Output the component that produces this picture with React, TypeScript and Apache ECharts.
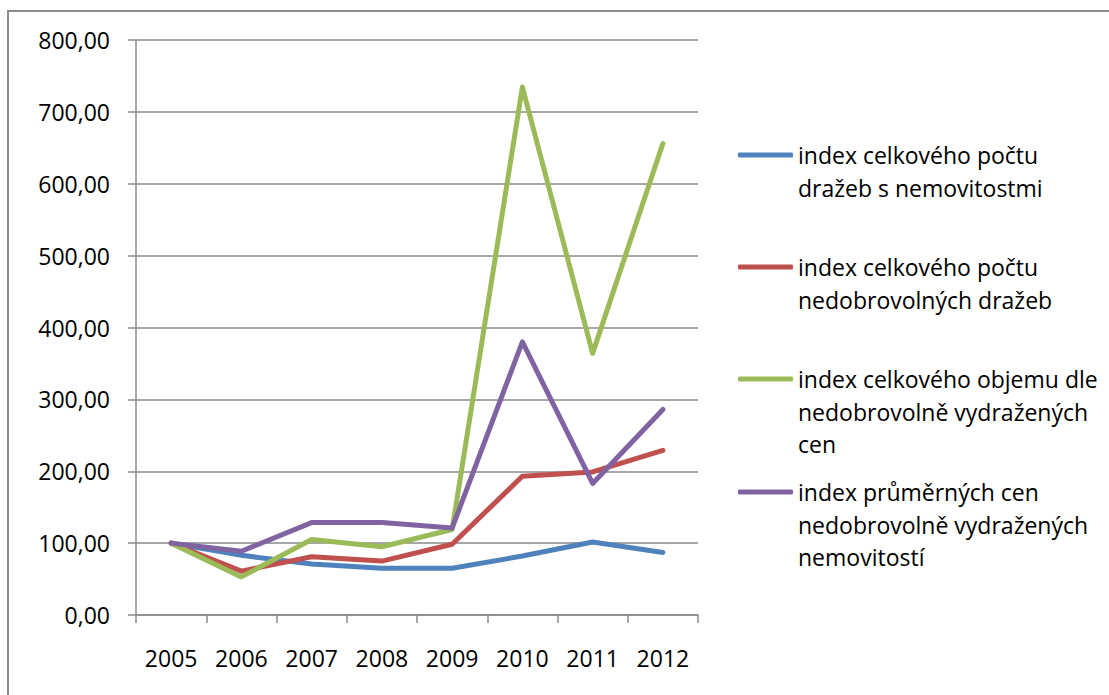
import React, { useEffect, useRef } from "react";
import * as echarts from "echarts";

const categories = ["2005", "2006", "2007", "2008", "2009", "2010", "2011", "2012"];

const nameBlue = "index celkového počtu\ndražeb s nemovitostmi";
const nameRed = "index celkového počtu\nnedobrovolných dražeb";
const nameGreen = "index celkového objemu dle\nnedobrovolně vydražených\ncen";
const namePurple = "index průměrných cen\nnedobrovolně vydražených\nnemovitostí";

const blueValues = [100, 83, 71, 65, 65, 82, 101.6, 87];
const redValues = [100, 61, 81, 75, 98.5, 193, 199, 229];
const greenValues = [100, 53, 105, 95, 119, 734.5, 364, 656];
const purpleValues = [100, 88.7, 128.6, 128.6, 121, 380, 183, 286];

const yTicks = { min: 0, max: 800, interval: 100 };

const FONT = "Open Sans";
const FS = 23;
const LH = 32.5;
const AXIS_COLOR = "#8a8a8a";

function padName(name: string): string {
  const n = name.split("\n").length;
  return "\n".repeat(n - 1) + name;
}

export default function App() {
  const ref = useRef<HTMLDivElement>(null);
  useEffect(() => {
    if (!ref.current) return;
    const chart = echarts.init(ref.current, null, { renderer: "svg" });
    const seriesDefs = [
      { name: nameBlue, data: blueValues, color: "#4F81BD", iconY: 155 },
      { name: nameRed, data: redValues, color: "#C0504D", iconY: 267 },
      { name: nameGreen, data: greenValues, color: "#9BBB59", iconY: 379 },
      { name: namePurple, data: purpleValues, color: "#8064A2", iconY: 492 },
    ];
    const legends = seriesDefs.map((s) => {
      const n = s.name.split("\n").length;
      const totalLines = 2 * n - 1;
      return {
        data: [s.name],
        orient: "vertical",
        left: 738,
        top: s.iconY - (totalLines * LH) / 2,
        padding: 0,
        icon: "roundRect",
        itemWidth: 55,
        itemHeight: 5,
        itemGap: 0,
        selectedMode: false,
        formatter: (nm: string) => padName(nm),
        textStyle: {
          fontFamily: FONT,
          fontSize: FS,
          lineHeight: LH,
          color: "#000",
        },
      };
    });
    chart.setOption({
      animation: false,
      backgroundColor: "#fff",
      grid: { left: 136, right: 411, top: 40, bottom: 80, containLabel: false },
      legend: legends,
      xAxis: {
        type: "category",
        data: categories,
        boundaryGap: true,
        axisLine: { show: true, lineStyle: { color: AXIS_COLOR, width: 1.5 } },
        axisTick: { show: true, inside: false, length: 8, alignWithLabel: false, lineStyle: { color: AXIS_COLOR, width: 1.5 } },
        axisLabel: { margin: 31, fontFamily: FONT, fontSize: FS, color: "#000" },
        splitLine: { show: false },
      },
      yAxis: {
        type: "value",
        min: yTicks.min,
        max: yTicks.max,
        interval: yTicks.interval,
        axisLine: { show: true, lineStyle: { color: AXIS_COLOR, width: 1.5 } },
        axisTick: { show: true, inside: false, length: 8, lineStyle: { color: AXIS_COLOR, width: 1.5 } },
        axisLabel: {
          margin: 26,
          fontFamily: FONT,
          fontSize: FS,
          color: "#000",
          formatter: (v: number) => v.toFixed(2).replace(".", ","),
        },
        splitLine: { show: true, lineStyle: { color: AXIS_COLOR, width: 1.5 } },
      },
      series: seriesDefs.map((s) => ({
        type: "line",
        name: s.name,
        data: s.data,
        symbol: "none",
        showSymbol: false,
        color: s.color,
        lineStyle: { color: s.color, width: 5, cap: "round", join: "round" },
        itemStyle: { color: s.color },
      })),
      graphic: [
        {
          type: "polyline",
          shape: { points: [[8, 700], [8, 11], [1115, 11]] },
          style: { stroke: AXIS_COLOR, lineWidth: 2, fill: null },
          silent: true,
        },
      ],
    });
    return () => chart.dispose();
  }, []);
  return (
    <div
      ref={ref}
      style={{ position: "fixed", left: 0, top: 0, width: 1109, height: 695 }}
    />
  );
}
